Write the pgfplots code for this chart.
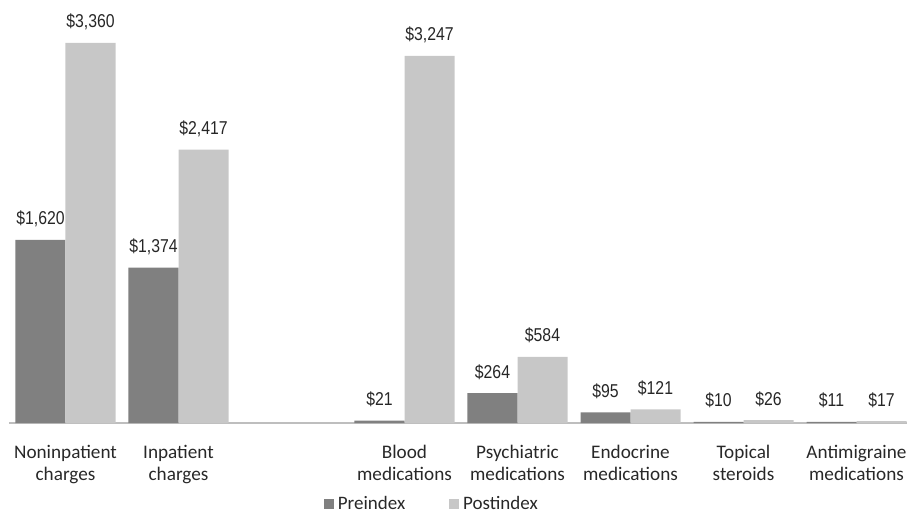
\documentclass[border=0pt]{standalone}
\usepackage{fontspec}
\usepackage{pgfplots}
\pgfplotsset{compat=1.18}
\setmainfont{Carlito}
\newfontfamily\valfont[FakeStretch=0.85]{Liberation Sans}
\definecolor{preC}{RGB}{128,128,128}
\definecolor{postC}{RGB}{199,199,199}
\definecolor{baseC}{RGB}{190,190,190}
\definecolor{txtC}{RGB}{40,40,40}

\begin{document}
\begin{tikzpicture}
\begin{axis}[
  scale only axis,
  width=449pt, height=211.5pt,
  xmin=-0.5, xmax=7.447,
  ymin=0, ymax=3740,
  enlargelimits=false,
  clip=false,
  ybar, bar width=25pt,
  axis y line=none,
  axis x line*=bottom,
  x axis line style={baseC, line width=1.2pt},
  major tick length=0pt,
  xtick={0,1,3,4,5,6,7},
  xticklabels={Noninpatient\\charges, Inpatient\\charges, Blood\\medications,
    Psychiatric\\medications, Endocrine\\medications, Topical\\steroids,
    Antimigraine\\medications},
  xticklabel style={align=center, text=txtC, yshift=-7.5pt,
    font=\fontsize{9.6}{11.2}\selectfont},
  nodes near coords={\$\pgfmathprintnumber[assume math mode=true,fixed,precision=0,1000 sep={,}]{\pgfplotspointmeta}},
  every node near coord/.append style={anchor=base, inner sep=0pt, yshift=7.5pt,
    text=black!85, font=\valfont\fontsize{9.3}{10}\selectfont},
  legend columns=2,
  legend style={draw=none, fill=none, at={(0.472,-0.192)}, anchor=center,
    font=\fontsize{9.5}{11}\selectfont, text=txtC,
    /tikz/every even column/.append style={column sep=20pt}},
  legend image code/.code={\fill[#1] (0pt,-2.5pt) rectangle (5pt,2.5pt);},
]
\addplot[fill=preC, draw=none, bar shift=-12.5pt] coordinates {
  (0,1620) (1,1374) (3,21) (4,264) (5,95) (6,10) (7,11)};
\addplot[fill=postC, draw=none, bar shift=12.5pt] coordinates {
  (0,3360) (1,2417) (3,3247) (4,584) (5,121) (6,26) (7,17)};
\legend{Preindex, Postindex}
\end{axis}
\pgfresetboundingbox
\path[use as bounding box] ([xshift=-4.5pt, yshift=-48pt]current axis.south west)
  rectangle (current axis.north east);
\end{tikzpicture}
\end{document}
